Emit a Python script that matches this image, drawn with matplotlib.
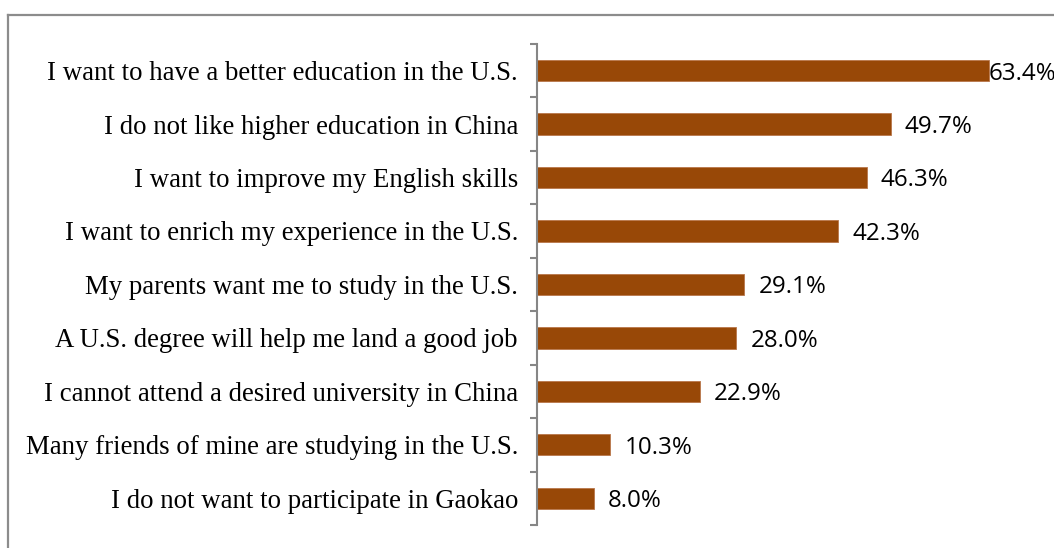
import numpy as np
import matplotlib.pyplot as plt
from matplotlib.lines import Line2D

reasons = [
    "I want to have a better education in the U.S.",
    "I do not like higher education in China",
    "I want to improve my English skills",
    "I want to enrich my experience in the U.S.",
    "My parents want me to study in the U.S.",
    "A U.S. degree will help me land a good job",
    "I cannot attend a desired university in China",
    "Many friends of mine are studying in the U.S.",
    "I do not want to participate in Gaokao",
]
shares = [63.4, 49.7, 46.3, 42.3, 29.1, 28.0, 22.9, 10.3, 8.0]

bar_color = "#984807"
axis_gray = "#868686"

fig = plt.figure(figsize=(10.54, 5.48), dpi=100)
ax = fig.add_axes([0.5095, 0.042, 0.473, 0.878])

y = np.arange(len(reasons))
ax.barh(y, shares, height=0.4, color=bar_color, edgecolor="#b8764a", linewidth=0.6)
ax.set_ylim(len(reasons) - 0.5, -0.5)
ax.set_xlim(0, 70)

# value labels; the longest bar gets its label right at the bar end
for i, v in enumerate(shares):
    off = 0 if v > 60 else 14
    ax.annotate(f"{v:.1f}%", (v, i), xytext=(off, 0), textcoords="offset pixels",
                va="center_baseline", ha="left", fontsize=17.4, family="Open Sans",
                annotation_clip=False)

ax.set_yticks(y)
ax.set_yticklabels(reasons, family="Liberation Serif", fontsize=19.3)
ax.set_yticks(np.arange(len(reasons) + 1) - 0.5, minor=True)
ax.tick_params(axis="y", which="major", length=0, pad=13.7)
ax.tick_params(axis="y", which="minor", length=5, width=1.5, color=axis_gray, direction="out")
ax.set_xticks([])
for side in ["top", "right", "bottom"]:
    ax.spines[side].set_visible(False)
ax.spines["left"].set_color(axis_gray)
ax.spines["left"].set_linewidth(1.5)

# outer chart border (runs off the right and bottom edges)
x0, y0 = 8 / 1054, 1 - 15 / 548
fig.add_artist(Line2D([x0, x0], [0, y0], color="#8c8c8c", lw=1.6))
fig.add_artist(Line2D([x0, 1], [y0, y0], color="#8c8c8c", lw=1.6))

fig.savefig("out.png", dpi=100)
